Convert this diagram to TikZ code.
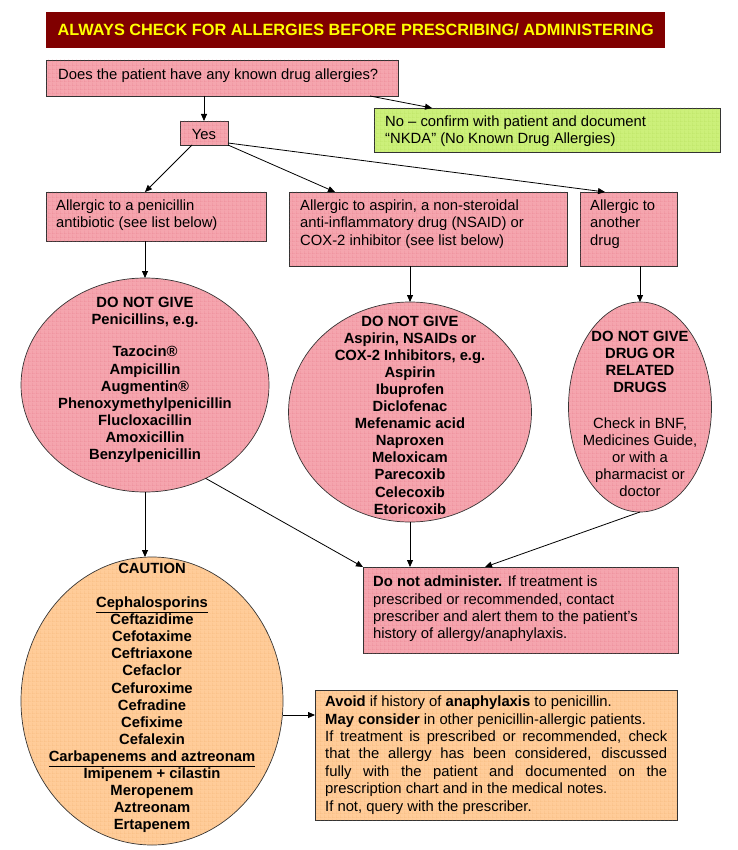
\documentclass[tikz,border=0pt]{standalone}
\usepackage{fontspec}
\setmainfont{Liberation Sans}
\usetikzlibrary{shapes.geometric,arrows.meta,patterns.meta,calc}
\definecolor{pinkbase}{HTML}{F5A5AE}
\definecolor{pinkline}{HTML}{DE6072}
\definecolor{greenbase}{HTML}{CCF07A}
\definecolor{greenline}{HTML}{A2D040}
\definecolor{orangebase}{HTML}{FFCC99}
\definecolor{orangeline}{HTML}{EDA058}
\definecolor{hdrred}{HTML}{800000}
\definecolor{hdryellow}{HTML}{FFFF00}
\definecolor{edge}{HTML}{333333}
\tikzdeclarepattern{
  name=fgrid,
  type=uncolored,
  bounding box={(0,0) and (4pt,4pt)},
  tile size={(4pt,4pt)},
  code={
    \draw[line width=0.6pt] (0,0) -- (4pt,0);
    \draw[line width=0.6pt] (0,0) -- (0,4pt);
  }
}
\tikzset{
  base/.style={draw=edge, line width=0.7pt, inner sep=0pt, outer sep=0pt},
  pinkfill/.style={base, fill=pinkbase, postaction={pattern=fgrid, pattern color=pinkline}},
  greenfill/.style={base, fill=greenbase, postaction={pattern=fgrid, pattern color=greenline}},
  orangefill/.style={base, fill=orangebase, postaction={pattern=fgrid, pattern color=orangeline}},
  boxat/.style={anchor=north west, rectangle},
  oval/.style={ellipse},
  txt/.style={font=\fontsize{14.8}{17.4}\selectfont, inner sep=0pt, align=left},
  btxt/.style={font=\fontsize{14.8}{17.1}\selectfont\bfseries, inner sep=0pt, align=center},
  arr/.style={-{Triangle[length=7pt,width=6pt]}, line width=0.8pt, black},
}
\begin{document}
\begin{tikzpicture}[x=1pt,y=-1pt]
\useasboundingbox (0,0) rectangle (737,850);
% header
\node[boxat, fill=hdrred, minimum width=619pt, minimum height=36pt, inner sep=0pt,
  text=hdryellow, font=\fontsize{16.3}{19}\selectfont\bfseries] (hdr) at (46,12)
  {ALWAYS CHECK FOR ALLERGIES BEFORE PRESCRIBING/ ADMINISTERING};
% boxes
\node[pinkfill, boxat, minimum width=352pt, minimum height=36pt] (q) at (46,60) {};
\node[txt, anchor=west] (qt) at (58,76) {Does the patient have any known drug allergies?};
\node[pinkfill, boxat, minimum width=48pt, minimum height=24pt] (yes) at (180,121) {};
\node[txt] (yest) at (204,134) {Yes};
\node[greenfill, boxat, minimum width=346pt, minimum height=44pt] (no) at (374,108) {};
\node[txt, anchor=west] (not) at (385,131) {No -- confirm with patient and document\\``NKDA'' (No Known Drug Allergies)};
\node[pinkfill, boxat, minimum width=220pt, minimum height=49pt] (pen) at (46,192) {};
\node[txt, anchor=west] (pent) at (56,215) {Allergic to a penicillin\\antibiotic (see list below)};
\node[pinkfill, boxat, minimum width=278pt, minimum height=74pt] (asp) at (289,192) {};
\node[txt, anchor=west] (aspt) at (300,224) {Allergic to aspirin, a non-steroidal\\anti-inflammatory drug (NSAID) or\\COX-2 inhibitor (see list below)};
\node[pinkfill, boxat, minimum width=97pt, minimum height=74pt] (oth) at (580,192) {};
\node[txt, anchor=west] (otht) at (590,224) {Allergic to\\another\\drug};
% ellipses
\node[pinkfill, oval, minimum width=248pt, minimum height=214pt] (c1) at (145,385) {};
\node[btxt] (c1t) at (145,380) {DO NOT GIVE\\Penicillins, e.g.\\[15pt]Tazocin®\\Ampicillin\\Augmentin®\\Phenoxymethylpenicillin\\Flucloxacillin\\Amoxicillin\\Benzylpenicillin};
\node[pinkfill, oval, minimum width=243pt, minimum height=220pt] (c2) at (410,412) {};
\node[btxt] (c2t) at (410,415) {DO NOT GIVE\\Aspirin, NSAIDs or\\COX-2 Inhibitors, e.g.\\Aspirin\\Ibuprofen\\Diclofenac\\Mefenamic acid\\Naproxen\\Meloxicam\\Parecoxib\\Celecoxib\\Etoricoxib};
\node[pinkfill, oval, minimum width=143pt, minimum height=210pt] (c3) at (640,407) {};
\node[btxt] (c3t) at (640,414) {DO NOT GIVE\\DRUG OR\\RELATED\\DRUGS\\[19pt]\mdseries Check in BNF,\\\mdseries Medicines Guide,\\\mdseries or with a\\\mdseries pharmacist or\\\mdseries doctor};
\node[orangefill, oval, minimum width=262pt, minimum height=288pt] (c4) at (152,701) {};
\node[btxt] (c4t) at (152,698) {CAUTION\\[17pt]\underline{Cephalosporins}\\Ceftazidime\\Cefotaxime\\Ceftriaxone\\Cefaclor\\Cefuroxime\\Cefradine\\Cefixime\\Cefalexin\\\underline{Carbapenems and aztreonam}\\Imipenem + cilastin\\Meropenem\\Aztreonam\\Ertapenem};
% lower boxes
\node[pinkfill, boxat, minimum width=315pt, minimum height=86pt] (dna) at (363,567) {};
\node[txt, anchor=west] (dnat) at (373,609) {\textbf{Do not administer.} If treatment is\\prescribed or recommended, contact\\prescriber and alert them to the patient’s\\history of allergy/anaphylaxis.};
\node[orangefill, boxat, minimum width=362pt, minimum height=130pt] (avoid) at (315,690) {};
\node[txt, anchor=west, text width=342pt, align=justify] (avoidt) at (325,755) {\textbf{Avoid} if history of \textbf{anaphylaxis} to penicillin.\\\textbf{May consider} in other penicillin-allergic patients.\\If treatment is prescribed or recommended, check\linebreak that the allergy has been considered, discussed\linebreak fully with the patient and documented on the\linebreak prescription chart and in the medical notes.\\If not, query with the prescriber.};
% connectors
\draw[arr] (q.south -| yest) -- (yes.north);
\draw[arr] ([xshift=-28pt]q.south east) -- ([xshift=58pt]no.north west);
\draw[arr] ([xshift=12pt]yes.south west) -- ([xshift=99pt]pen.north west);
\draw[arr] (yes.south east) -- ([xshift=46pt]asp.north west);
\draw[arr] ([yshift=2pt]yes.south east) -- ([xshift=25pt]oth.north west);
\draw[arr] (pen.south -| c1.north) -- (c1.north);
\draw[arr] (asp.south -| c2.north) -- (c2.north);
\draw[arr] (oth.south -| c3.north) -- (c3.north);
\draw[arr] (c1.south) -- (c1.south |- c4.north);
\draw[arr] (c1.-57) -- (dna.north west);
\draw[arr] (c2.south) -- (c2.south |- dna.north);
\draw[arr] (c3.south) -- ([xshift=122pt]dna.north west);
\coordinate (av) at ([yshift=-25pt]avoid.north west);
\draw[arr] (c4.east |- av) -- (av);
\end{tikzpicture}
\end{document}
